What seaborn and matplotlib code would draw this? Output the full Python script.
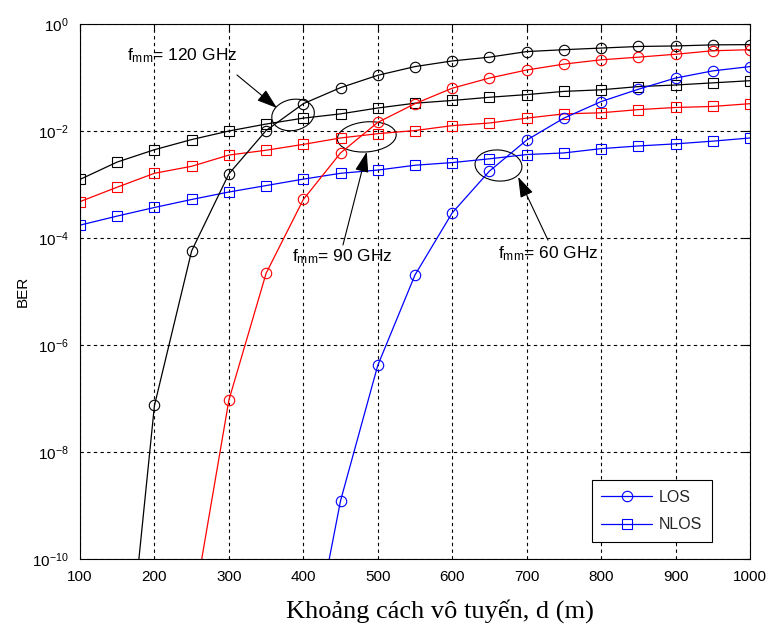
import numpy as np
import pandas as pd
import matplotlib
matplotlib.use("Agg")
import matplotlib.pyplot as plt
import seaborn as sns
from matplotlib.patches import Ellipse
from matplotlib.lines import Line2D
import matplotlib.transforms as mtransforms
from matplotlib.ticker import FixedLocator, LogFormatterMathtext, NullLocator

# ---------------- data ----------------
d_nlos = [100, 150, 200, 250, 300, 350, 400, 450, 500, 550,
          600, 650, 700, 750, 800, 850, 900, 950, 1000]

nlos_120 = [1.245e-3, 2.63e-3, 4.47e-3, 6.92e-3, 1.00e-2, 1.35e-2, 1.74e-2, 2.09e-2, 2.69e-2, 3.31e-2,
            3.72e-2, 4.27e-2, 4.79e-2, 5.50e-2, 5.89e-2, 6.76e-2, 7.24e-2, 7.94e-2, 8.71e-2]
nlos_90 = [4.79e-4, 8.91e-4, 1.62e-3, 2.19e-3, 3.55e-3, 4.37e-3, 5.62e-3, 7.41e-3, 8.91e-3, 1.02e-2,
           1.26e-2, 1.41e-2, 1.74e-2, 2.09e-2, 2.19e-2, 2.51e-2, 2.75e-2, 2.88e-2, 3.24e-2]
nlos_60 = [1.74e-4, 2.57e-4, 3.72e-4, 5.25e-4, 7.24e-4, 9.55e-4, 1.26e-3, 1.62e-3, 1.86e-3, 2.29e-3,
           2.57e-3, 3.02e-3, 3.63e-3, 3.89e-3, 4.68e-3, 5.25e-3, 5.75e-3, 6.46e-3, 7.41e-3]

d_los_120 = [150, 200, 250, 300, 350, 400, 450, 500, 550, 600, 650, 700, 750, 800, 850, 900, 950, 1000]
los_120 = [1.0e-14, 7.41e-8, 5.75e-5, 1.58e-3, 1.02e-2, 3.24e-2, 6.46e-2, 1.10e-1, 1.60e-1,
           2.04e-1, 2.40e-1, 3.05e-1, 3.31e-1, 3.55e-1, 3.80e-1, 3.89e-1, 4.07e-1, 4.12e-1]

d_los_90 = [250, 300, 350, 400, 450, 500, 550, 600, 650, 700, 750, 800, 850, 900, 950, 1000]
los_90 = [7.94e-12, 9.33e-8, 2.19e-5, 5.25e-4, 3.89e-3, 1.45e-2, 3.24e-2, 6.31e-2,
          9.77e-2, 1.38e-1, 1.78e-1, 2.14e-1, 2.40e-1, 2.72e-1, 3.16e-1, 3.31e-1]

d_los_60 = [400, 450, 500, 550, 600, 650, 700, 750, 800, 850, 900, 950, 1000]
los_60 = [3.16e-13, 1.23e-9, 4.17e-7, 2.04e-5, 2.95e-4, 1.78e-3, 6.76e-3, 1.74e-2,
          3.55e-2, 6.03e-2, 9.77e-2, 1.33e-1, 1.60e-1]

x_ticks = [100, 200, 300, 400, 500, 600, 700, 800, 900, 1000]
y_ticks = [1e-10, 1e-8, 1e-6, 1e-4, 1e-2, 1e0]
legend_labels = ["LOS", "NLOS"]
x_label = "Khoảng cách vô tuyến, d (m)"
y_label = "BER"
freq_labels = [r"f$_{mm}$= 120 GHz", r"f$_{mm}$= 90 GHz", r"f$_{mm}$= 60 GHz"]

# ---------------- style ----------------
sns.set_theme(style="white")
plt.rcParams["font.family"] = ["Liberation Sans", "DejaVu Sans"]
plt.rcParams["mathtext.default"] = "regular"

fig = plt.figure(figsize=(7.68, 6.25), dpi=100)
ax = fig.add_axes([80 / 768, (625 - 559) / 625, 670 / 768, 535 / 625])
ax.set_yscale("log")

series = [
    (d_nlos, nlos_120, "black", "s"),
    (d_nlos, nlos_90, "red", "s"),
    (d_nlos, nlos_60, "blue", "s"),
    (d_los_120, los_120, "black", "o"),
    (d_los_90, los_90, "red", "o"),
    (d_los_60, los_60, "blue", "o"),
]
for xs, ys, col, mk in series:
    df = pd.DataFrame({"d": xs, "ber": ys})
    sns.lineplot(data=df, x="d", y="ber", ax=ax, color=col, marker=mk,
                 markersize=7.5, markerfacecolor="none", markeredgecolor=col,
                 markeredgewidth=0.8, linewidth=0.9, sort=False, estimator=None,
                 legend=False)

ax.set_xlim(100, 1000)
ax.set_ylim(1e-10, 1)
ax.xaxis.set_major_locator(FixedLocator(x_ticks))
ax.yaxis.set_major_locator(FixedLocator(y_ticks))
ax.yaxis.set_major_formatter(LogFormatterMathtext())
ax.yaxis.set_minor_locator(NullLocator())
ax.grid(True, color="black", linestyle=(0, (3, 3)), linewidth=0.8)
ax.tick_params(axis="both", which="both", direction="in", top=True, right=True,
               length=5, width=0.8, labelsize=11, colors="black", pad=8)
for sp in ax.spines.values():
    sp.set_color("black")
    sp.set_linewidth(0.8)

ax.set_xlabel(x_label, family=["Liberation Serif", "DejaVu Serif"], fontsize=19, color="black")
ax.xaxis.set_label_coords(0.537, -0.075)
ax.set_ylabel(y_label, fontsize=11, color="black")
ax.yaxis.set_label_coords(-0.075, 0.5)

# legend
handles = [
    Line2D([], [], color="blue", marker="o", markersize=7.5, markerfacecolor="none",
           markeredgecolor="blue", linewidth=0.9, markeredgewidth=0.8),
    Line2D([], [], color="blue", marker="s", markersize=7.5, markerfacecolor="none",
           markeredgecolor="blue", linewidth=0.9, markeredgewidth=0.8),
]
leg = ax.legend(handles, legend_labels, loc="lower right", bbox_to_anchor=(0.943, 0.032),
                borderaxespad=0, fontsize=11.5, frameon=True, fancybox=False, framealpha=1,
                edgecolor="black", handlelength=3.2, borderpad=0.6, labelspacing=0.8,
                handletextpad=0.4)
leg.get_frame().set_linewidth(0.8)

# annotations: ellipses, arrows, labels (axes-fraction positions)
def ellipse(cx, cy, w_px, h_px, angle):
    tr = fig.dpi_scale_trans + mtransforms.ScaledTranslation(cx, cy, ax.transAxes)
    e = Ellipse((0, 0), w_px / 100, h_px / 100, angle=angle, transform=tr,
                fill=False, edgecolor="black", linewidth=0.8, clip_on=False)
    ax.add_patch(e)

ellipse(0.318, 0.830, 43, 31, 12)
ellipse(0.428, 0.789, 59, 30, 5)
ellipse(0.6246, 0.7355, 47, 31, -5)

arrows = [((0.2343, 0.9047), (0.294, 0.843)),
          ((0.3925, 0.587), (0.428, 0.761)),
          ((0.6985, 0.596), (0.654, 0.714))]
for tail, head in arrows:
    ax.annotate("", xy=head, xytext=tail, xycoords="axes fraction", textcoords="axes fraction",
                arrowprops=dict(arrowstyle="-|>,head_length=0.9,head_width=0.3",
                                color="black", lw=0.8, mutation_scale=14, shrinkA=0, shrinkB=0))

text_pos = [(0.070, 0.932), (0.316, 0.556), (0.624, 0.562)]
for (tx, ty), lab in zip(text_pos, freq_labels):
    ax.text(tx, ty, lab, transform=ax.transAxes, fontsize=12.5, color="black",
            ha="left", va="baseline")

fig.savefig("out.png", dpi=100)
